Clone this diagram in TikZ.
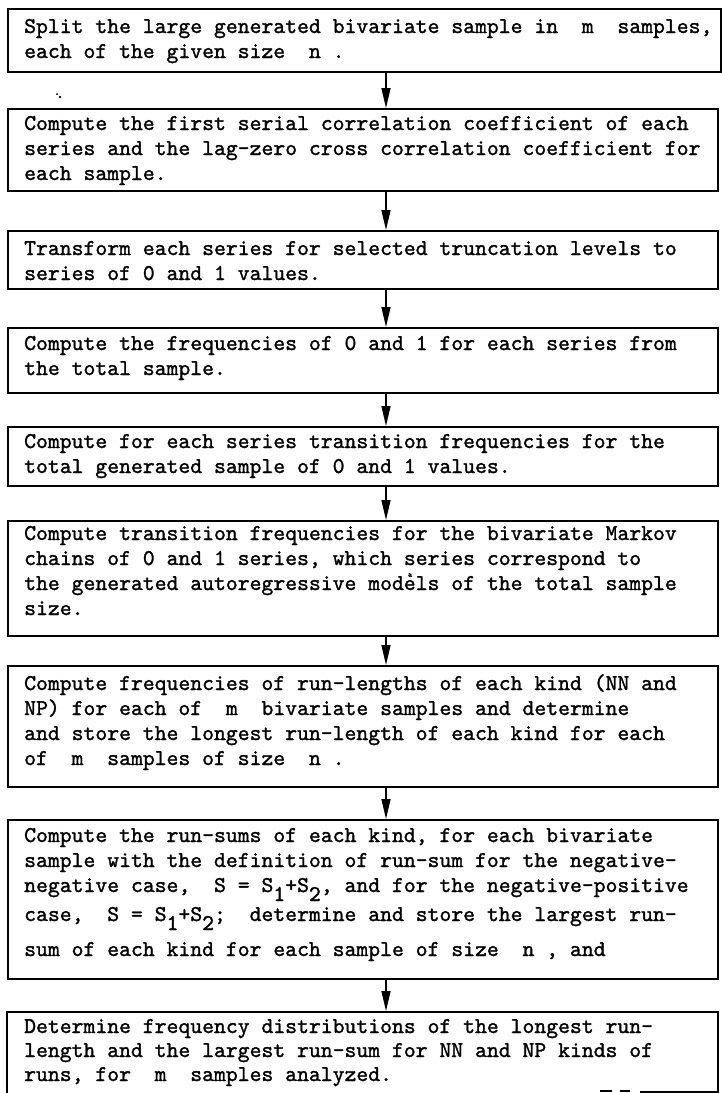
\documentclass[tikz,border=0pt]{standalone}
\usepackage{fontspec}
\newfontfamily\typew{lmmono10-regular.otf}[FakeBold=1.3]
\usetikzlibrary{arrows.meta}
\newcommand\lowr[1]{\raisebox{-9pt}[0pt][0pt]{#1}}
\tikzset{
  stepbox/.style={draw, line width=1.7pt, rectangle, inner sep=0pt, anchor=north west},
  flow/.style={line width=1.5pt, -{Triangle[length=20pt,width=9pt]}},
  txt/.style={anchor=base west, inner sep=0pt, font=\typew\fontsize{22.6pt}{25pt}\selectfont},
}
\begin{document}
\begin{tikzpicture}[x=1pt,y=-1pt]
\useasboundingbox (0,0) rectangle (722,1093);
\clip (0,0) rectangle (722,1093);
\fill[white] (0,0) rectangle (722,1093);
\coordinate (ax) at (386,0);
% boxes
\node[stepbox, minimum width=713pt, minimum height=63pt] (b1) at (7,8) {};
\node[stepbox, minimum width=710pt, minimum height=82pt] (b2) at (7,108) {};
\node[stepbox, minimum width=710pt, minimum height=58pt] (b3) at (7,230) {};
\node[stepbox, minimum width=710pt, minimum height=65pt] (b4) at (7,327) {};
\node[stepbox, minimum width=710pt, minimum height=59pt] (b5) at (7,426) {};
\node[stepbox, minimum width=710pt, minimum height=115pt] (b6) at (7,520) {};
\node[stepbox, minimum width=710pt, minimum height=121pt] (b7) at (7,665) {};
\node[stepbox, minimum width=710pt, minimum height=159pt] (b8) at (7,819) {};
\node[stepbox, minimum width=711pt, minimum height=100pt] (b9) at (6,1011) {};
% texts
\node[txt] (t1) at (24,33) {\begin{tabular}[t]{@{}l@{}}
Split the large generated bivariate sample in~~m~~samples,\\
each of the given size~~n~.\end{tabular}};
\node[txt] (t2) at (24,130) {\begin{tabular}[t]{@{}l@{}}
Compute the first serial correlation coefficient of each\\
series and the lag-zero cross correlation coefficient for\\
each sample.\end{tabular}};
\node[txt] (t3) at (24,255) {\begin{tabular}[t]{@{}l@{}}
Transform each series for selected truncation levels to\\
series of 0 and 1 values.\end{tabular}};
\node[txt] (t4) at (24,350) {\begin{tabular}[t]{@{}l@{}}
Compute the frequencies of 0 and 1 for each series from\\
the total sample.\end{tabular}};
\node[txt] (t5) at (24,448) {\begin{tabular}[t]{@{}l@{}}
Compute for each series transition frequencies for the\\
total generated sample of 0 and 1 values.\end{tabular}};
\node[txt] (t6) at (24,540) {\begin{tabular}[t]{@{}l@{}}
Compute transition frequencies for the bivariate Markov\\
chains of 0 and 1 series, which series correspond to\\
the generated autoregressive models of the total sample\\
size.\end{tabular}};
\node[font=\typew\fontsize{8pt}{8pt}\selectfont, inner sep=0pt] (acc) at (410,575) {a};
\node[txt] (t7) at (24,690) {\begin{tabular}[t]{@{}l@{}}
Compute frequencies of run-lengths of each kind (NN and\\
NP) for each of~~m~~bivariate samples and determine\\
and store the longest run-length of each kind for each\\
of~~m~~samples of size~~n~.\end{tabular}};
\node[txt] (t8) at (24,842) {\begin{tabular}[t]{@{}l@{}}
Compute the run-sums of each kind, for each bivariate\\
sample with the definition of run-sum for the negative-\\
negative case,~~S = S\lowr{1}+S\lowr{2}, and for the negative-positive\\[4pt]
case,~~S = S\lowr{1}+S\lowr{2};~~determine and store the largest run-\\[10pt]
sum of each kind for each sample of size~~n~, and\end{tabular}};
\node[txt] (t9) at (24,1033) {\begin{tabular}[t]{@{}l@{}}
Determine frequency distributions of the longest run-\\[-1pt]
length and the largest run-sum for NN and NP kinds of\\[-1pt]
runs, for~~m~~samples analyzed.\end{tabular}};
% arrows
\draw[flow] (b1.south -| ax) -- (b2.north -| ax);
\draw[flow] (b2.south -| ax) -- (b3.north -| ax);
\draw[flow] (b3.south -| ax) -- (b4.north -| ax);
\draw[flow] (b4.south -| ax) -- (b5.north -| ax);
\draw[flow] (b5.south -| ax) -- (b6.north -| ax);
\draw[flow] (b6.south -| ax) -- (b7.north -| ax);
\draw[flow] (b7.south -| ax) -- (b8.north -| ax);
\draw[flow] (b8.south -| ax) -- (b9.north -| ax);
% scan specks
\fill (57,94) circle (1pt);
\fill (60,97) circle (1.3pt);
\draw[line width=1.5pt] (600,1091) -- (612,1091) (620,1091) -- (630,1091);
\draw[line width=3pt] (640,1092) -- (718,1092);
\end{tikzpicture}
\end{document}
